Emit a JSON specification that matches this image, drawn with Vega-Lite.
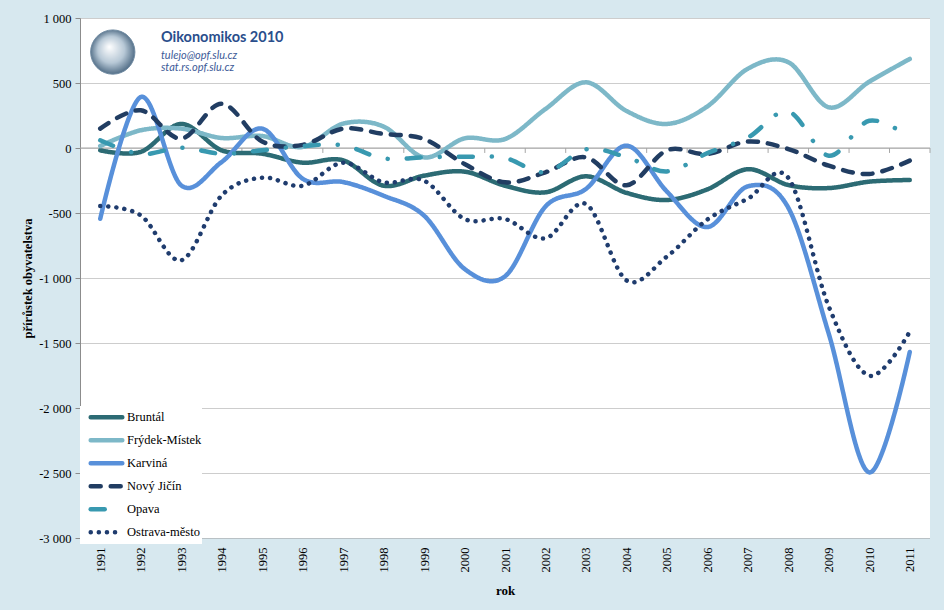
{
  "$schema": "https://vega.github.io/schema/vega-lite/v6.json",
  "width": 850,
  "height": 520,
  "autosize": "none",
  "padding": {"left": 80, "top": 18, "right": 14, "bottom": 72},
  "background": "#d7e8ef",
  "view": {"fill": "white", "stroke": null},
  "config": {"font": "Liberation Serif"},
  "datasets": {
    "okresy": [
      {"rok": 1991, "okres": "Bruntál", "hodnota": -18}, {"rok": 1992, "okres": "Bruntál", "hodnota": -30}, {"rok": 1993, "okres": "Bruntál", "hodnota": 185}, {"rok": 1994, "okres": "Bruntál", "hodnota": -18}, {"rok": 1995, "okres": "Bruntál", "hodnota": -44}, {"rok": 1996, "okres": "Bruntál", "hodnota": -113}, {"rok": 1997, "okres": "Bruntál", "hodnota": -95}, {"rok": 1998, "okres": "Bruntál", "hodnota": -290}, {"rok": 1999, "okres": "Bruntál", "hodnota": -213}, {"rok": 2000, "okres": "Bruntál", "hodnota": -182}, {"rok": 2001, "okres": "Bruntál", "hodnota": -290}, {"rok": 2002, "okres": "Bruntál", "hodnota": -341}, {"rok": 2003, "okres": "Bruntál", "hodnota": -218}, {"rok": 2004, "okres": "Bruntál", "hodnota": -345}, {"rok": 2005, "okres": "Bruntál", "hodnota": -400}, {"rok": 2006, "okres": "Bruntál", "hodnota": -318}, {"rok": 2007, "okres": "Bruntál", "hodnota": -163}, {"rok": 2008, "okres": "Bruntál", "hodnota": -285}, {"rok": 2009, "okres": "Bruntál", "hodnota": -308}, {"rok": 2010, "okres": "Bruntál", "hodnota": -259}, {"rok": 2011, "okres": "Bruntál", "hodnota": -246},
      {"rok": 1991, "okres": "Frýdek-Místek", "hodnota": 15}, {"rok": 1992, "okres": "Frýdek-Místek", "hodnota": 136}, {"rok": 1993, "okres": "Frýdek-Místek", "hodnota": 149}, {"rok": 1994, "okres": "Frýdek-Místek", "hodnota": 77}, {"rok": 1995, "okres": "Frýdek-Místek", "hodnota": 92}, {"rok": 1996, "okres": "Frýdek-Místek", "hodnota": 8}, {"rok": 1997, "okres": "Frýdek-Místek", "hodnota": 187}, {"rok": 1998, "okres": "Frýdek-Místek", "hodnota": 165}, {"rok": 1999, "okres": "Frýdek-Místek", "hodnota": -72}, {"rok": 2000, "okres": "Frýdek-Místek", "hodnota": 74}, {"rok": 2001, "okres": "Frýdek-Místek", "hodnota": 69}, {"rok": 2002, "okres": "Frýdek-Místek", "hodnota": 300}, {"rok": 2003, "okres": "Frýdek-Místek", "hodnota": 505}, {"rok": 2004, "okres": "Frýdek-Místek", "hodnota": 285}, {"rok": 2005, "okres": "Frýdek-Místek", "hodnota": 185}, {"rok": 2006, "okres": "Frýdek-Místek", "hodnota": 320}, {"rok": 2007, "okres": "Frýdek-Místek", "hodnota": 610}, {"rok": 2008, "okres": "Frýdek-Místek", "hodnota": 660}, {"rok": 2009, "okres": "Frýdek-Místek", "hodnota": 313}, {"rok": 2010, "okres": "Frýdek-Místek", "hodnota": 510}, {"rok": 2011, "okres": "Frýdek-Místek", "hodnota": 685},
      {"rok": 1991, "okres": "Karviná", "hodnota": -544}, {"rok": 1992, "okres": "Karviná", "hodnota": 392}, {"rok": 1993, "okres": "Karviná", "hodnota": -287}, {"rok": 1994, "okres": "Karviná", "hodnota": -108}, {"rok": 1995, "okres": "Karviná", "hodnota": 149}, {"rok": 1996, "okres": "Karviná", "hodnota": -236}, {"rok": 1997, "okres": "Karviná", "hodnota": -262}, {"rok": 1998, "okres": "Karviná", "hodnota": -367}, {"rok": 1999, "okres": "Karviná", "hodnota": -520}, {"rok": 2000, "okres": "Karviná", "hodnota": -930}, {"rok": 2001, "okres": "Karviná", "hodnota": -987}, {"rok": 2002, "okres": "Karviná", "hodnota": -450}, {"rok": 2003, "okres": "Karviná", "hodnota": -315}, {"rok": 2004, "okres": "Karviná", "hodnota": 18}, {"rok": 2005, "okres": "Karviná", "hodnota": -335}, {"rok": 2006, "okres": "Karviná", "hodnota": -608}, {"rok": 2007, "okres": "Karviná", "hodnota": -295}, {"rok": 2008, "okres": "Karviná", "hodnota": -460}, {"rok": 2009, "okres": "Karviná", "hodnota": -1430}, {"rok": 2010, "okres": "Karviná", "hodnota": -2495}, {"rok": 2011, "okres": "Karviná", "hodnota": -1569},
      {"rok": 1991, "okres": "Nový Jičín", "hodnota": 149}, {"rok": 1992, "okres": "Nový Jičín", "hodnota": 290}, {"rok": 1993, "okres": "Nový Jičín", "hodnota": 72}, {"rok": 1994, "okres": "Nový Jičín", "hodnota": 341}, {"rok": 1995, "okres": "Nový Jičín", "hodnota": 50}, {"rok": 1996, "okres": "Nový Jičín", "hodnota": 24}, {"rok": 1997, "okres": "Nový Jičín", "hodnota": 149}, {"rok": 1998, "okres": "Nový Jičín", "hodnota": 108}, {"rok": 1999, "okres": "Nový Jičín", "hodnota": 69}, {"rok": 2000, "okres": "Nový Jičín", "hodnota": -123}, {"rok": 2001, "okres": "Nový Jičín", "hodnota": -264}, {"rok": 2002, "okres": "Nový Jičín", "hodnota": -187}, {"rok": 2003, "okres": "Nový Jičín", "hodnota": -72}, {"rok": 2004, "okres": "Nový Jičín", "hodnota": -287}, {"rok": 2005, "okres": "Nový Jičín", "hodnota": -18}, {"rok": 2006, "okres": "Nový Jičín", "hodnota": -46}, {"rok": 2007, "okres": "Nový Jičín", "hodnota": 50}, {"rok": 2008, "okres": "Nový Jičín", "hodnota": -8}, {"rok": 2009, "okres": "Nový Jičín", "hodnota": -136}, {"rok": 2010, "okres": "Nový Jičín", "hodnota": -200}, {"rok": 2011, "okres": "Nový Jičín", "hodnota": -97},
      {"rok": 1991, "okres": "Opava", "hodnota": 59}, {"rok": 1992, "okres": "Opava", "hodnota": -46}, {"rok": 1993, "okres": "Opava", "hodnota": 2}, {"rok": 1994, "okres": "Opava", "hodnota": -44}, {"rok": 1995, "okres": "Opava", "hodnota": -18}, {"rok": 1996, "okres": "Opava", "hodnota": 15}, {"rok": 1997, "okres": "Opava", "hodnota": 20}, {"rok": 1998, "okres": "Opava", "hodnota": -80}, {"rok": 1999, "okres": "Opava", "hodnota": -72}, {"rok": 2000, "okres": "Opava", "hodnota": -67}, {"rok": 2001, "okres": "Opava", "hodnota": -77}, {"rok": 2002, "okres": "Opava", "hodnota": -187}, {"rok": 2003, "okres": "Opava", "hodnota": -10}, {"rok": 2004, "okres": "Opava", "hodnota": -70}, {"rok": 2005, "okres": "Opava", "hodnota": -180}, {"rok": 2006, "okres": "Opava", "hodnota": -40}, {"rok": 2007, "okres": "Opava", "hodnota": 80}, {"rok": 2008, "okres": "Opava", "hodnota": 280}, {"rok": 2009, "okres": "Opava", "hodnota": -59}, {"rok": 2010, "okres": "Opava", "hodnota": 210}, {"rok": 2011, "okres": "Opava", "hodnota": 82},
      {"rok": 1991, "okres": "Ostrava-město", "hodnota": -446}, {"rok": 1992, "okres": "Ostrava-město", "hodnota": -518}, {"rok": 1993, "okres": "Ostrava-město", "hodnota": -864}, {"rok": 1994, "okres": "Ostrava-město", "hodnota": -365}, {"rok": 1995, "okres": "Ostrava-město", "hodnota": -228}, {"rok": 1996, "okres": "Ostrava-město", "hodnota": -290}, {"rok": 1997, "okres": "Ostrava-město", "hodnota": -113}, {"rok": 1998, "okres": "Ostrava-město", "hodnota": -264}, {"rok": 1999, "okres": "Ostrava-město", "hodnota": -251}, {"rok": 2000, "okres": "Ostrava-město", "hodnota": -546}, {"rok": 2001, "okres": "Ostrava-město", "hodnota": -546}, {"rok": 2002, "okres": "Ostrava-město", "hodnota": -695}, {"rok": 2003, "okres": "Ostrava-město", "hodnota": -431}, {"rok": 2004, "okres": "Ostrava-město", "hodnota": -1018}, {"rok": 2005, "okres": "Ostrava-město", "hodnota": -835}, {"rok": 2006, "okres": "Ostrava-město", "hodnota": -550}, {"rok": 2007, "okres": "Ostrava-město", "hodnota": -390}, {"rok": 2008, "okres": "Ostrava-město", "hodnota": -230}, {"rok": 2009, "okres": "Ostrava-město", "hodnota": -1220}, {"rok": 2010, "okres": "Ostrava-město", "hodnota": -1751}, {"rok": 2011, "okres": "Ostrava-město", "hodnota": -1413}
    ],
    "hranice": [
      {"rok": 1991.5}, {"rok": 1992.5}, {"rok": 1993.5}, {"rok": 1994.5}, {"rok": 1995.5}, {"rok": 1996.5}, {"rok": 1997.5}, {"rok": 1998.5}, {"rok": 1999.5}, {"rok": 2000.5}, {"rok": 2001.5}, {"rok": 2002.5}, {"rok": 2003.5}, {"rok": 2004.5}, {"rok": 2005.5}, {"rok": 2006.5}, {"rok": 2007.5}, {"rok": 2008.5}, {"rok": 2009.5}, {"rok": 2010.5}, {"rok": 2011.5}
    ],
    "logo": [{"rok": 1991.31, "hodnota": 738}],
    "popisky": [
      {"rok": 1992.5, "hodnota": 848, "text": "Oikonomikos 2010", "typ": "nadpis"},
      {"rok": 1992.5, "hodnota": 710, "text": "tulejo@opf.slu.cz", "typ": "odkaz"},
      {"rok": 1992.5, "hodnota": 618, "text": "stat.rs.opf.slu.cz", "typ": "odkaz"}
    ]
  },
  "layer": [
    {
      "data": {"name": "hranice"},
      "mark": {"type": "rule", "color": "#a6a6a6", "strokeWidth": 1},
      "encoding": {
        "x": {"field": "rok", "type": "quantitative", "scale": {"domain": [1990.5, 2011.5], "nice": false, "zero": false}},
        "y": {"datum": 0, "type": "quantitative"},
        "y2": {"datum": -38}
      }
    },
    {
      "data": {"values": [{"hodnota": 0}]},
      "mark": {"type": "rule", "color": "#a6a6a6", "strokeWidth": 1.2},
      "encoding": {
        "y": {"field": "hodnota", "type": "quantitative"}
      }
    },
    {
      "data": {"name": "okresy"},
      "mark": {"type": "line", "interpolate": "cardinal", "strokeWidth": 4.5, "strokeCap": "round"},
      "encoding": {
        "x": {
          "field": "rok", "type": "quantitative",
          "scale": {"domain": [1990.5, 2011.5], "nice": false, "zero": false},
          "axis": {
            "title": "rok", "titleFont": "Liberation Serif", "titleFontSize": 13, "titleFontWeight": "bold", "titleColor": "black", "titlePadding": 12,
            "values": [1991, 1992, 1993, 1994, 1995, 1996, 1997, 1998, 1999, 2000, 2001, 2002, 2003, 2004, 2005, 2006, 2007, 2008, 2009, 2010, 2011],
            "format": "d", "labelAngle": -90, "labelFont": "Liberation Serif", "labelFontSize": 12.5, "labelColor": "black", "labelPadding": 9,
            "ticks": false, "domain": false, "grid": false, "labelOverlap": false
          }
        },
        "y": {
          "field": "hodnota", "type": "quantitative",
          "scale": {"domain": [-3000, 1000], "nice": false},
          "axis": {
            "title": "přírůstek  obyvatelstva", "titleFont": "Liberation Serif", "titleFontSize": 12.5, "titleFontWeight": "bold", "titleColor": "black", "titlePadding": 4,
            "values": [-3000, -2500, -2000, -1500, -1000, -500, 0, 500, 1000],
            "labelExpr": "replace(replace(format(datum.value, ','), ',', ' '), '−', '-')",
            "labelFont": "Liberation Serif", "labelFontSize": 12.5, "labelColor": "black", "labelPadding": 4,
            "tickSize": 5, "tickColor": "#8c8c8c", "domainColor": "#8c8c8c",
            "grid": true, "gridColor": "#9a9a9a", "gridDash": [1, 1], "gridWidth": 1
          }
        },
        "color": {
          "field": "okres", "type": "nominal",
          "scale": {
            "domain": ["Bruntál", "Frýdek-Místek", "Karviná", "Nový Jičín", "Opava", "Ostrava-město"],
            "range": ["#2c6b74", "#7db8c8", "#5890da", "#213d62", "#3899b0", "#1f3c6e"]
          },
          "legend": {
            "title": null, "orient": "none", "legendX": 0, "legendY": 388,
            "fillColor": "white", "padding": 0,
            "symbolType": "stroke", "symbolSize": 1000, "symbolStrokeWidth": 4.5, "symbolOffset": 8,
            "labelFont": "Liberation Serif", "labelFontSize": 12.5, "labelFontWeight": "normal", "labelColor": "black", "labelOffset": 2,
            "clipHeight": 22.3, "rowPadding": 0,
            "encode": {"symbols": {"update": {"strokeCap": {"value": "round"}}}}
          }
        },
        "strokeDash": {
          "field": "okres", "type": "nominal",
          "scale": {
            "domain": ["Bruntál", "Frýdek-Místek", "Karviná", "Nový Jičín", "Opava", "Ostrava-město"],
            "range": [[1, 0], [1, 0], [1, 0], [10, 10], [14, 19, 0.1, 19], [0.1, 8]]
          },
          "legend": null
        }
      }
    },
    {
      "data": {"name": "logo"},
      "mark": {
        "type": "point", "shape": "circle", "filled": true, "size": 1960, "opacity": 1,
        "fill": {"gradient": "radial", "x1": 0.42, "y1": 0.38, "r1": 0, "x2": 0.5, "y2": 0.5, "r2": 0.55,
          "stops": [{"offset": 0, "color": "#ffffff"}, {"offset": 0.55, "color": "#b7c8d6"}, {"offset": 1, "color": "#3f5d78"}]},
        "stroke": "#6f8aa1", "strokeWidth": 1
      },
      "encoding": {
        "x": {"field": "rok", "type": "quantitative"},
        "y": {"field": "hodnota", "type": "quantitative"}
      }
    },
    {
      "data": {"name": "popisky"},
      "transform": [{"filter": "datum.typ === 'nadpis'"}],
      "mark": {"type": "text", "align": "left", "baseline": "middle", "font": "Lato", "fontSize": 14.5, "fontWeight": "bold", "color": "#2a4e8c"},
      "encoding": {
        "x": {"field": "rok", "type": "quantitative"},
        "y": {"field": "hodnota", "type": "quantitative"},
        "text": {"field": "text"}
      }
    },
    {
      "data": {"name": "popisky"},
      "transform": [{"filter": "datum.typ === 'odkaz'"}],
      "mark": {"type": "text", "align": "left", "baseline": "middle", "font": "Lato", "fontSize": 11, "fontStyle": "italic", "color": "#3d5b98"},
      "encoding": {
        "x": {"field": "rok", "type": "quantitative"},
        "y": {"field": "hodnota", "type": "quantitative"},
        "text": {"field": "text"}
      }
    }
  ]
}
